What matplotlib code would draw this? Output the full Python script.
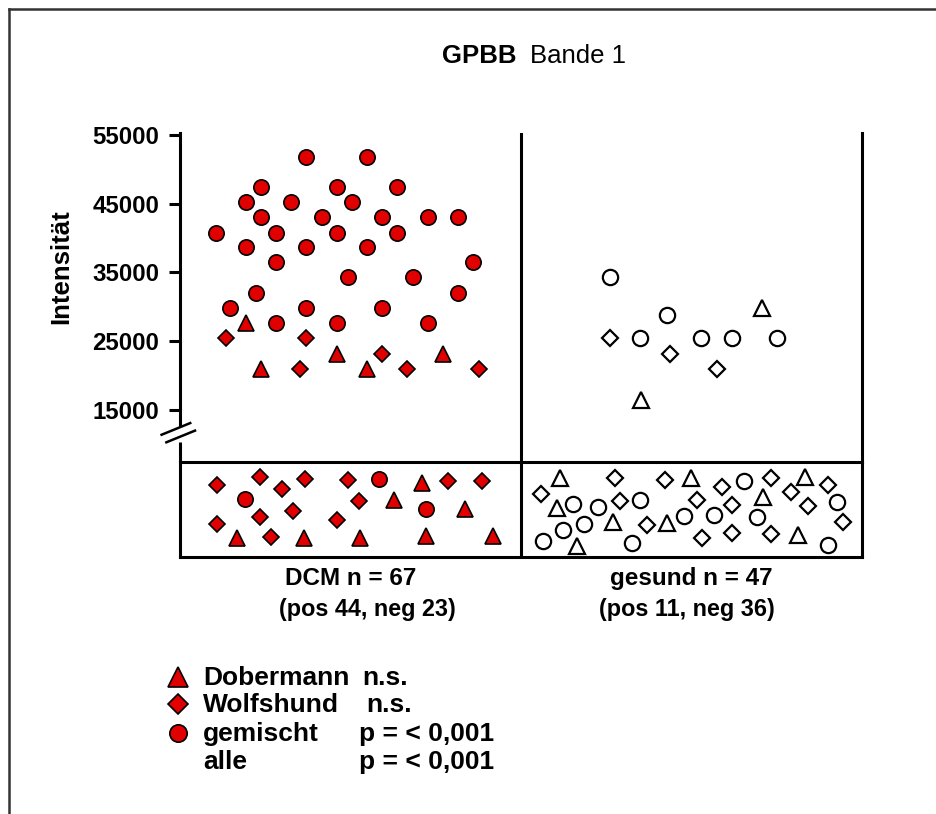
import matplotlib
matplotlib.use("Agg")
import matplotlib.pyplot as plt
from matplotlib.lines import Line2D
import matplotlib.transforms as mtransforms

plt.rcParams['font.family'] = ['Liberation Sans', 'DejaVu Sans']

# --- data (x: 0-1 = DCM, 1-2 = gesund; jitter positions) ---
# positive samples, intensity values
dcm_circle_x = [0.370, 0.549, 0.237, 0.460, 0.637, 0.194, 0.326, 0.504, 0.237, 0.416,
                0.592, 0.726, 0.816, 0.105, 0.282, 0.460, 0.637, 0.194, 0.370, 0.549,
                0.282, 0.860, 0.494, 0.682, 0.223, 0.816, 0.147, 0.370, 0.592, 0.282,
                0.460, 0.726]
dcm_circle_y = [51800, 51800, 47500, 47500, 47500, 45300, 45300, 45300, 43000, 43000,
                43000, 43000, 43000, 40800, 40800, 40800, 40800, 38700, 38700, 38700,
                36500, 36500, 34300, 34300, 32000, 32000, 29900, 29900, 29900, 27700,
                27700, 27700]
dcm_tri_x = [0.194, 0.237, 0.460, 0.549, 0.772]
dcm_tri_y = [27600, 21000, 23200, 21000, 23200]
dcm_dia_x = [0.135, 0.370, 0.592, 0.352, 0.665, 0.878]
dcm_dia_y = [25400, 25400, 23200, 21000, 21000, 21000]

ges_circle_x = [1.261, 1.427, 1.349, 1.528, 1.618, 1.752]
ges_circle_y = [34300, 28800, 25400, 25400, 25400, 25400]
ges_dia_x = [1.261, 1.437, 1.574]
ges_dia_y = [25400, 23200, 21000]
ges_tri_x = [1.706, 1.351]
ges_tri_y = [29800, 16500]

# negative samples (below cut-off), vertical jitter only (0-1)
neg_dcm_dia_x = [0.108, 0.235, 0.298, 0.367, 0.494, 0.787, 0.885, 0.526, 0.235, 0.330,
                 0.108, 0.460, 0.266]
neg_dcm_dia_y = [0.755, 0.837, 0.720, 0.819, 0.809, 0.798, 0.798, 0.585, 0.418, 0.489,
                 0.348, 0.394, 0.213]
neg_dcm_circle_x = [0.191, 0.584, 0.721]
neg_dcm_circle_y = [0.614, 0.819, 0.507]
neg_dcm_tri_x = [0.711, 0.628, 0.836, 0.166, 0.364, 0.528, 0.721, 0.917]
neg_dcm_tri_y = [0.784, 0.596, 0.507, 0.205, 0.205, 0.205, 0.223, 0.223]

neg_ges_tri_x = [1.114, 1.105, 1.271, 1.163, 1.499, 1.429, 1.711, 1.833, 1.811]
neg_ges_tri_y = [0.827, 0.514, 0.365, 0.117, 0.827, 0.354, 0.631, 0.844, 0.231]
neg_ges_circle_x = [1.153, 1.225, 1.349, 1.185, 1.124, 1.065, 1.326, 1.479, 1.566,
                    1.653, 1.691, 1.926, 1.899]
neg_ges_circle_y = [0.561, 0.524, 0.603, 0.348, 0.287, 0.170, 0.146, 0.436, 0.444,
                    0.798, 0.426, 0.578, 0.124]
neg_ges_dia_x = [1.059, 1.276, 1.290, 1.422, 1.515, 1.369, 1.589, 1.618, 1.530, 1.618,
                 1.732, 1.792, 1.841, 1.732, 1.899, 1.945]
neg_ges_dia_y = [0.667, 0.827, 0.585, 0.809, 0.596, 0.337, 0.737, 0.543, 0.205, 0.252,
                 0.827, 0.684, 0.535, 0.241, 0.763, 0.365]

yticks = [15000, 25000, 35000, 45000, 55000]
group_titles = ["DCM n = 67", "gesund n = 47"]
group_counts = ["(pos 44, neg 23)", "(pos 11, neg 36)"]
legend_rows = [("^", "Dobermann", "n.s."),
               ("D", "Wolfshund", "n.s."),
               ("o", "gemischt", "p = < 0,001"),
               (None, "alle", "p = < 0,001")]

RED = '#e00000'
LW = 2.2
W, H = 937, 814

fig = plt.figure(figsize=(W / 100, H / 100), dpi=100)

def fx(px):
    return px / W

def fy(py):
    return 1 - py / H

ax = fig.add_axes([fx(180), fy(462), fx(862) - fx(180), fy(133) - fy(462)])
axn = fig.add_axes([fx(180), fy(557), fx(862) - fx(180), fy(462) - fy(557)])

filled = dict(linestyle='none', markerfacecolor=RED, markeredgecolor='black',
              markeredgewidth=1.2, clip_on=False)
hollow = dict(linestyle='none', markerfacecolor='white', markeredgecolor='black',
              markeredgewidth=1.6, clip_on=False)
ms = {'o': 11, '^': 12, 'D': 8.6}

# upper panel (positive)
ax.plot(dcm_circle_x, dcm_circle_y, 'o', ms=ms['o'], **filled)
ax.plot(dcm_tri_x, dcm_tri_y, '^', ms=ms['^'], **filled)
ax.plot(dcm_dia_x, dcm_dia_y, 'D', ms=ms['D'], **filled)
ax.plot(ges_circle_x, ges_circle_y, 'o', ms=ms['o'], **hollow)
ax.plot(ges_tri_x, ges_tri_y, '^', ms=ms['^'], **hollow)
ax.plot(ges_dia_x, ges_dia_y, 'D', ms=ms['D'], **hollow)

ymin, ymax = 7436, 55290
ax.set_xlim(0, 2)
ax.set_ylim(ymin, ymax)
ax.axvline(1, color='black', lw=LW)
ax.set_xticks([])
ax.set_yticks(yticks)
ax.set_yticklabels([str(v) for v in yticks], fontsize=17.3, fontweight='bold')
ax.tick_params(axis='y', direction='out', length=8, width=LW, pad=7)
for s in ['top', 'bottom']:
    ax.spines[s].set_visible(False)
for s in ['left', 'right']:
    ax.spines[s].set_linewidth(LW)

# axis break on the left spine
y_gap_top, y_gap_bot = 12818, 10345
ax.spines['left'].set_bounds(y_gap_top, ymax)
ax.plot([0, 0], [ymin, y_gap_bot], color='black', lw=LW, clip_on=False,
        solid_capstyle='butt')
btr = mtransforms.blended_transform_factory(ax.transAxes, ax.transData)
ax.plot([-0.027, 0.015], [11400, 13100], color='black', lw=1.8, transform=btr,
        clip_on=False)
ax.plot([-0.020, 0.022], [10300, 12000], color='black', lw=1.8, transform=btr,
        clip_on=False)

# lower panel (negative)
axn.plot(neg_dcm_dia_x, neg_dcm_dia_y, 'D', ms=ms['D'], **filled)
axn.plot(neg_dcm_circle_x, neg_dcm_circle_y, 'o', ms=ms['o'], **filled)
axn.plot(neg_dcm_tri_x, neg_dcm_tri_y, '^', ms=ms['^'], **filled)
axn.plot(neg_ges_tri_x, neg_ges_tri_y, '^', ms=ms['^'], **hollow)
axn.plot(neg_ges_circle_x, neg_ges_circle_y, 'o', ms=ms['o'], **hollow)
axn.plot(neg_ges_dia_x, neg_ges_dia_y, 'D', ms=ms['D'], **hollow)
axn.set_xlim(0, 2)
axn.set_ylim(0, 1)
axn.axvline(1, color='black', lw=LW)
axn.set_xticks([])
axn.set_yticks([])
for s in axn.spines.values():
    s.set_linewidth(LW)

# group labels under the lower panel
ltr = mtransforms.blended_transform_factory(axn.transData, axn.transAxes)
title_x = [0.50, 1.50]
count_x = [0.55, 1.485]
for i in range(2):
    axn.text(title_x[i], -0.23, group_titles[i], transform=ltr, ha='center',
             va='center', fontsize=17.5, fontweight='bold')
    axn.text(count_x[i], -0.55, group_counts[i], transform=ltr, ha='center',
             va='center', fontsize=16.8, fontweight='bold')

# y label and title
fig.text(fx(61), fy(267), "Intensität", rotation=90, ha='center', va='center',
         fontsize=18.5, fontweight='bold')
fig.text(fx(517), fy(63), "GPBB", ha='right', va='baseline', fontsize=18.5,
         fontweight='bold')
fig.text(fx(530), fy(63), "Bande 1", ha='left', va='baseline', fontsize=18.5)

# legend
base_y = [685, 712, 741, 769]
stat_x = [362, 366, 359, 359]
legend_ms = {'^': 14, 'D': 10.5, 'o': 12.5}
for (mk, name, stat), by, sx in zip(legend_rows, base_y, stat_x):
    if mk is not None:
        fig.add_artist(Line2D([fx(178)], [fy(by - 8)], marker=mk, ms=legend_ms[mk],
                              transform=fig.transFigure, **filled))
    fig.text(fx(203), fy(by), name, ha='left', va='baseline', fontsize=19,
             fontweight='bold')
    fig.text(fx(sx), fy(by), stat, ha='left', va='baseline', fontsize=19,
             fontweight='bold')

# outer frame (top and left edges visible in the original)
fig.add_artist(Line2D([fx(9), fx(9)], [0, fy(9)], color='#333333', lw=1.8,
                      transform=fig.transFigure))
fig.add_artist(Line2D([fx(9), 1], [fy(9), fy(9)], color='#333333', lw=1.8,
                      transform=fig.transFigure))

fig.savefig("out.png", dpi=100)
